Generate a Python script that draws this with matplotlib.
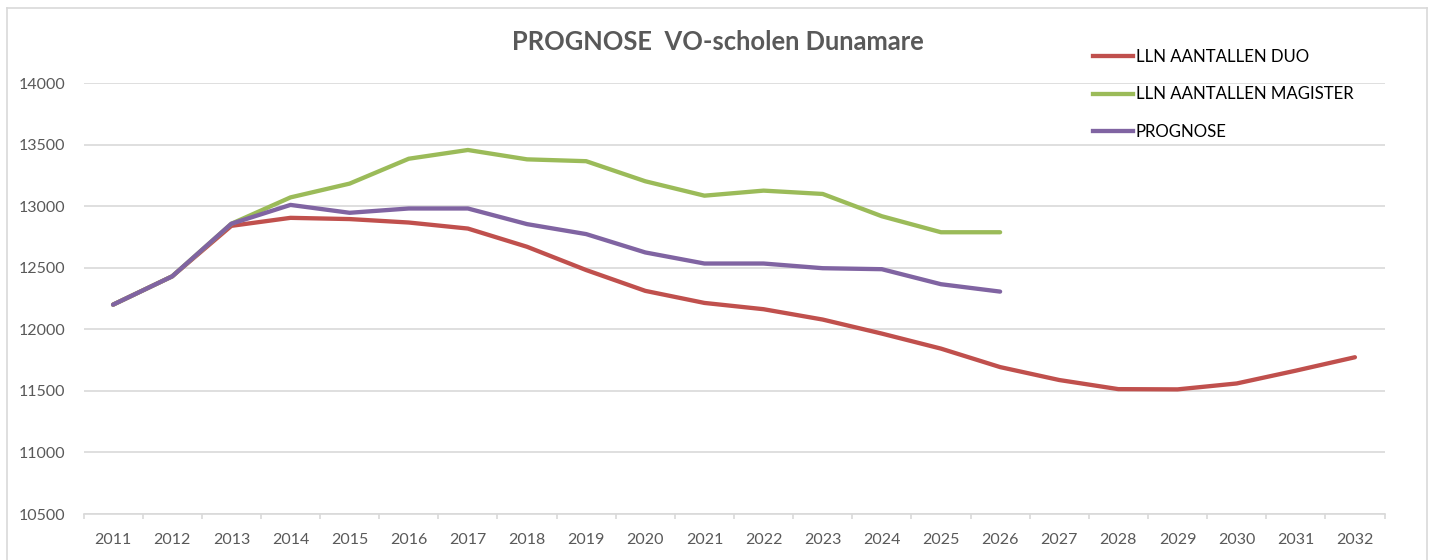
import matplotlib
matplotlib.use("Agg")
import matplotlib.pyplot as plt
from matplotlib.lines import Line2D

plt.rcParams['font.family'] = ['Lato', 'DejaVu Sans']

years = [str(y) for y in range(2011, 2033)]

# leerlingaantallen DUO (2011-2032)
duo = [12200, 12430, 12840, 12905, 12895, 12867, 12818, 12670, 12481, 12312,
       12214, 12163, 12079, 11965, 11843, 11693, 11588, 11514, 11512, 11560,
       11664, 11773]
# leerlingaantallen Magister (2011-2026)
magister = [12200, 12430, 12857, 13071, 13183, 13385, 13456, 13380, 13365, 13202,
            13085, 13126, 13099, 12918, 12788, 12788]
# prognose (2011-2026)
prognose = [12200, 12430, 12857, 13010, 12946, 12981, 12981, 12854, 12773, 12624,
            12534, 12534, 12496, 12488, 12366, 12306]

labels = ['LLN AANTALLEN DUO', 'LLN AANTALLEN MAGISTER', 'PROGNOSE']
colors = ['#C0504D', '#9BBB59', '#8064A2']
yticks = [10500, 11000, 11500, 12000, 12500, 13000, 13500, 14000]

W, H = 1432, 560
fig = plt.figure(figsize=(W / 100, H / 100), dpi=100)
ax = fig.add_axes([83.5 / W, 46 / H, (1384.5 - 83.5) / W, (514 - 83) / H])

x_duo = list(range(len(duo)))
x_mag = list(range(len(magister)))
x_pro = list(range(len(prognose)))
ax.plot(x_duo, duo, color=colors[0], lw=3.1, solid_capstyle='round', label=labels[0])
ax.plot(x_mag, magister, color=colors[1], lw=3.1, solid_capstyle='round', label=labels[1])
ax.plot(x_pro, prognose, color=colors[2], lw=3.1, solid_capstyle='round', label=labels[2])

ax.set_xlim(-0.5, len(years) - 0.5)
ax.set_ylim(10500, 14000)
ax.set_yticks(yticks)
ax.set_yticklabels([str(v) for v in yticks])
ax.set_xticks(x_duo)
ax.set_xticklabels(years)
ax.set_xticks([i - 0.5 for i in range(len(years) + 1)], minor=True)

ax.grid(axis='y', color='#D9D9D9', lw=1.2)
ax.set_axisbelow(True)
for s in ['top', 'right', 'left']:
    ax.spines[s].set_visible(False)
ax.spines['bottom'].set_color('#D9D9D9')
ax.spines['bottom'].set_linewidth(1.2)

ax.tick_params(axis='y', length=0, pad=13, labelsize=11.5, labelcolor='#595959')
ax.tick_params(axis='x', which='major', length=0, pad=14, labelsize=11.5, labelcolor='#595959')
ax.tick_params(axis='x', which='minor', length=3.3, width=1.2, color='#D9D9D9')

fig.text(718 / W, 1 - 42 / H, 'PROGNOSE  VO-scholen Dunamare', ha='center', va='center',
         fontsize=18.4, fontweight='bold', color='#595959')

handles = [Line2D([], [], color=c, lw=3.1) for c in colors]
leg = fig.legend(handles, labels, loc='upper left', bbox_to_anchor=(1078 / W, 1 - 34 / H),
                 frameon=False, fontsize=12.1, handlelength=2.35, handletextpad=0.2,
                 labelspacing=1.27, labelcolor='#000000')

# rand rond de grafiek
border = dict(color='#D9D9D9', lw=1.2, transform=fig.transFigure)
fig.add_artist(Line2D([7 / W, 1427 / W], [1 - 8 / H, 1 - 8 / H], **border))
fig.add_artist(Line2D([7 / W, 7 / W], [0, 1 - 8 / H], **border))
fig.add_artist(Line2D([1427 / W, 1427 / W], [0, 1 - 8 / H], **border))

fig.savefig('out.png', dpi=100)
